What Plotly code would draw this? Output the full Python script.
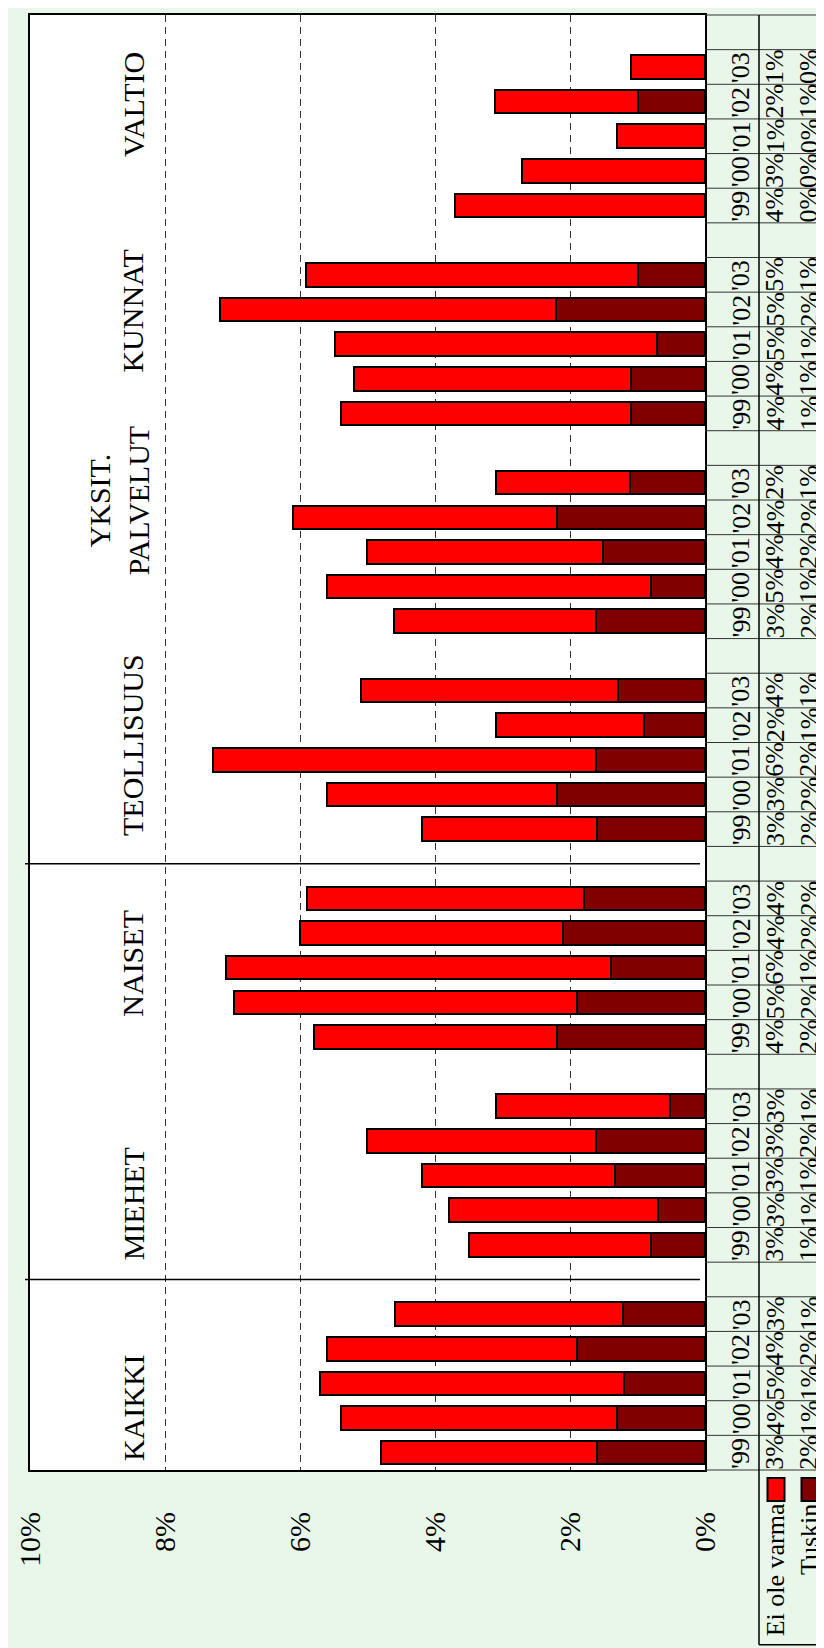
import plotly.graph_objects as go

# ---------------- data ----------------
groups = ["KAIKKI", "MIEHET", "NAISET", "TEOLLISUUS", "YKSIT.<br>PALVELUT", "KUNNAT", "VALTIO"]
years = ["'99", "'00", "'01", "'02", "'03"]

# bar lengths (percent), per group, years '99..'03
tuskin = [
    [1.60, 1.30, 1.20, 1.90, 1.21],   # KAIKKI
    [0.80, 0.70, 1.33, 1.61, 0.52],   # MIEHET
    [2.20, 1.90, 1.40, 2.10, 1.80],   # NAISET
    [1.60, 2.20, 1.61, 0.91, 1.29],   # TEOLLISUUS
    [1.61, 0.80, 1.51, 2.20, 1.11],   # YKSIT. PALVELUT
    [1.10, 1.10, 0.71, 2.21, 1.00],   # KUNNAT
    [0.00, 0.00, 0.00, 1.00, 0.00],   # VALTIO
]
ei_ole_varma = [
    [3.20, 4.10, 4.50, 3.70, 3.39],
    [2.70, 3.09, 2.86, 3.40, 2.58],
    [3.60, 5.08, 5.69, 3.90, 4.09],
    [2.59, 3.40, 5.68, 2.19, 3.81],
    [3.00, 4.80, 3.50, 3.90, 1.99],
    [4.30, 4.10, 4.77, 4.98, 4.91],
    [3.71, 2.71, 1.30, 2.11, 1.10],
]
# values printed in the data table
table_eov = [
    [3, 4, 5, 4, 3],
    [3, 3, 3, 3, 3],
    [4, 5, 6, 4, 4],
    [3, 3, 6, 2, 4],
    [3, 5, 4, 4, 2],
    [4, 4, 5, 5, 5],
    [4, 3, 1, 2, 1],
]
table_tuskin = [
    [2, 1, 1, 2, 1],
    [1, 1, 1, 2, 1],
    [2, 2, 1, 2, 2],
    [2, 2, 2, 1, 1],
    [2, 1, 2, 2, 1],
    [1, 1, 1, 2, 1],
    [0, 0, 0, 1, 0],
]
x_ticks = [0, 2, 4, 6, 8, 10]
x_ticktext = ["0%", "2%", "4%", "6%", "8%", "10%"]
series_names = ["Ei ole varma", "Tuskin"]

# ---------------- layout helpers ----------------
W, H = 824, 1648
L, R, T, B = 22, 697, 5, 1462
SLOT = 6  # 5 years + 1 spacer per group
NSLOTS = SLOT * len(groups) - 1

def px_x(px):
    return (px - L) / (R - L)

def px_y(py):
    return (B - py) / (B - T)

FONT = "Liberation Serif, serif"
RED = "#FF0000"
DARK = "#800000"
BG = "#E8F7EA"
TFS = 26  # table font size

ypos, t_vals, e_vals = [], [], []
for g in range(len(groups)):
    for i in range(len(years)):
        ypos.append(g * SLOT + i)
        t_vals.append(tuskin[g][i])
        e_vals.append(ei_ole_varma[g][i])

fig = go.Figure()
fig.add_trace(go.Bar(
    x=t_vals, y=ypos, orientation="h", name=series_names[1], width=0.68,
    marker=dict(color=DARK, line=dict(color="black", width=2)), showlegend=False,
))
fig.add_trace(go.Bar(
    x=e_vals, y=ypos, orientation="h", name=series_names[0], width=0.68,
    marker=dict(color=RED, line=dict(color="black", width=2)), showlegend=False,
))

shapes = []
annotations = []

# group separators (inside spacer slots)
for sep_slot in [SLOT * 1 - 1, SLOT * 3 - 1]:
    yp = (sep_slot + 0.5) / (NSLOTS + 1)
    shapes.append(dict(type="line", xref="paper", yref="paper",
                       x0=px_x(L - 5), x1=px_x(R - 5), y0=yp, y1=yp,
                       line=dict(color="black", width=1.5)))

# category labels
label_pos = [(125, 1400), (125, 1196), (125, 955), (125, 736), (111, 492), (125, 302), (126, 95)]
for name, (lx, ly) in zip(groups, label_pos):
    annotations.append(dict(text=name, xref="paper", yref="paper", x=px_x(lx), y=px_y(ly),
                            xanchor="center", yanchor="middle", textangle=-90, showarrow=False,
                            font=dict(family=FONT, size=30, color="black")))

# data table grid
TX_HDR, TX_COL = R, 751
for k in range(NSLOTS + 2):
    yp = k / (NSLOTS + 1)
    shapes.append(dict(type="line", xref="paper", yref="paper",
                       x0=px_x(TX_HDR), x1=px_x(W + 5), y0=yp, y1=yp,
                       line=dict(color="#333333", width=1)))
shapes.append(dict(type="line", xref="paper", yref="paper",
                   x0=px_x(TX_COL), x1=px_x(TX_COL), y0=1, y1=px_y(1637),
                   line=dict(color="black", width=1.5)))
shapes.append(dict(type="line", xref="paper", yref="paper",
                   x0=px_x(TX_COL), x1=px_x(W + 5), y0=px_y(1637), y1=px_y(1637),
                   line=dict(color="black", width=1.5)))

COL_YEAR, COL_EOV, COL_T = 733, 767, 801
for g in range(len(groups)):
    for i in range(len(years)):
        yp = (g * SLOT + i + 0.5) / (NSLOTS + 1)
        for txt, cx in [(years[i], COL_YEAR), (f"{table_eov[g][i]}%", COL_EOV), (f"{table_tuskin[g][i]}%", COL_T)]:
            annotations.append(dict(text=txt, xref="paper", yref="paper", x=px_x(cx), y=yp,
                                    xanchor="center", yanchor="middle", textangle=-90, showarrow=False,
                                    font=dict(family=FONT, size=TFS, color="black")))

# legend inside the table
for name, color, cx, tlen in [(series_names[0], RED, COL_EOV + 1, 5.11 * TFS), (series_names[1], DARK, COL_T + 1, 2.78 * TFS)]:
    shapes.append(dict(type="rect", xref="paper", yref="paper",
                       x0=px_x(cx - 8.5), x1=px_x(cx + 8.5), y0=px_y(1470), y1=px_y(1493),
                       fillcolor=color, line=dict(color="black", width=2)))
    annotations.append(dict(text=name, xref="paper", yref="paper", x=px_x(cx - 1), y=px_y(1496 + tlen / 2),
                            xanchor="center", yanchor="middle", textangle=-90, showarrow=False,
                            font=dict(family=FONT, size=TFS, color="black")))

fig.update_layout(
    width=W, height=H,
    margin=dict(l=L, r=W - R, t=T, b=H - B, pad=0),
    paper_bgcolor=BG, plot_bgcolor="white",
    barmode="stack", bargap=0,
    showlegend=False,
    shapes=shapes, annotations=annotations,
    font=dict(family=FONT, color="black"),
)
fig.update_xaxes(
    range=[10, 0], tickvals=x_ticks, ticktext=x_ticktext, tickangle=-90,
    tickfont=dict(family=FONT, size=30, color="black"), ticks="",
    ticklabelstandoff=28,
    showgrid=True, gridcolor="#333333", gridwidth=1, griddash="7px,5px",
    zeroline=False, showline=True, linecolor="black", linewidth=2, mirror=True,
)
fig.update_yaxes(
    range=[-0.5, NSLOTS + 0.5], showticklabels=False, ticks="", showgrid=False,
    zeroline=False, showline=True, linecolor="black", linewidth=2, mirror=True,
)

fig.write_html("out.html")
